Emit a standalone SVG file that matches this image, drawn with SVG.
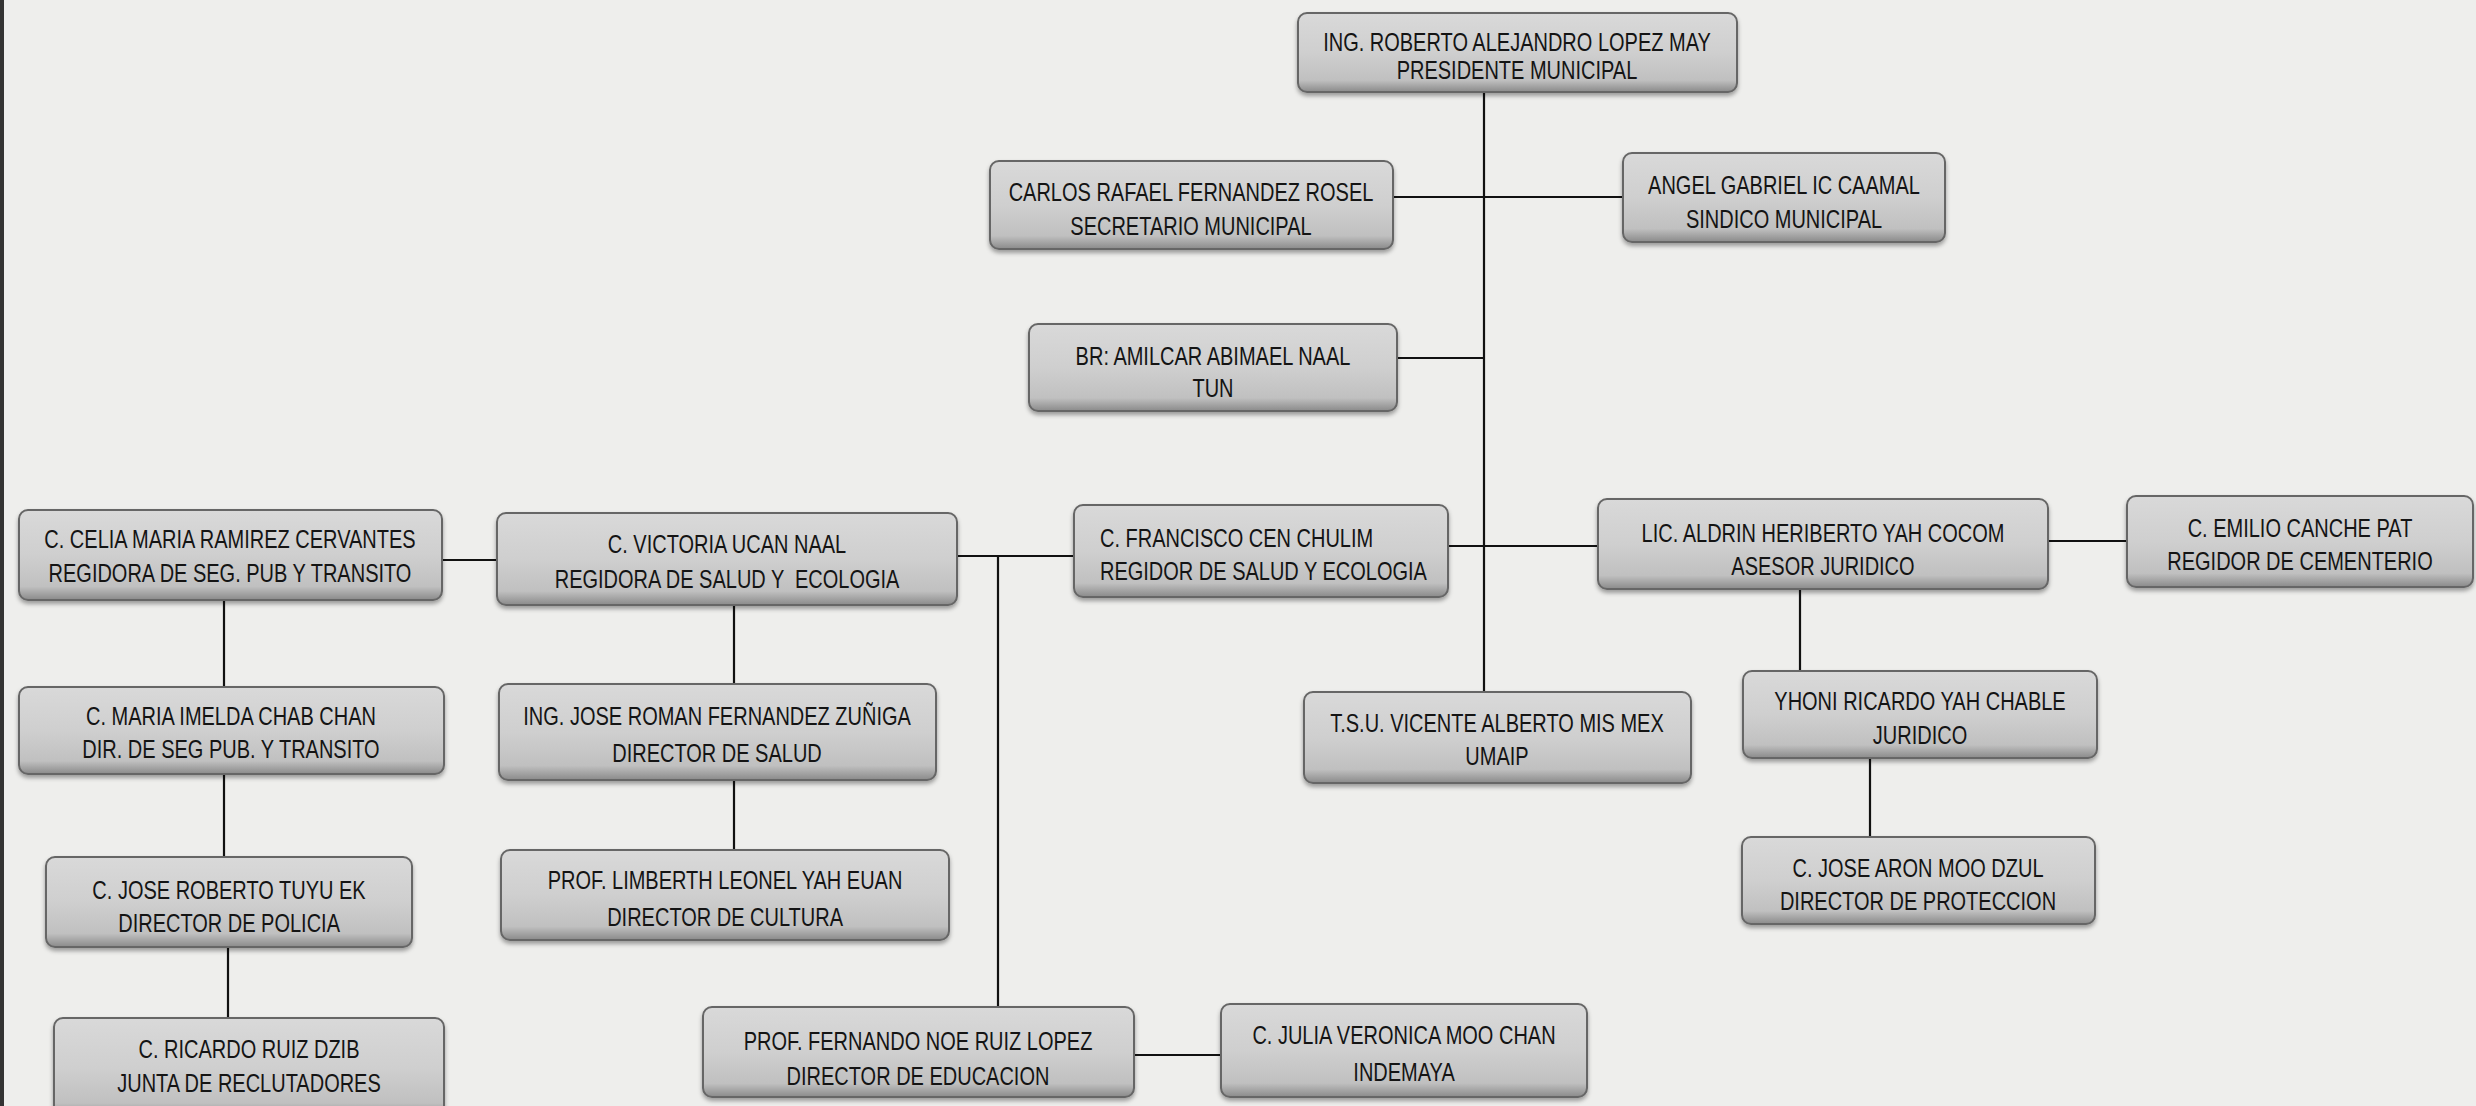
<svg xmlns="http://www.w3.org/2000/svg" width="2476" height="1106" viewBox="0 0 2476 1106">
<defs>
<linearGradient id="g" x1="0" y1="0" x2="0" y2="1">
<stop offset="0" stop-color="#d9d9d9"/>
<stop offset="0.5" stop-color="#cfcfcf"/>
<stop offset="0.85" stop-color="#c0c0c0"/>
<stop offset="1" stop-color="#8a8a8a"/>
</linearGradient>
<filter id="sh" x="-5%" y="-10%" width="110%" height="130%">
<feDropShadow dx="0" dy="3" stdDeviation="2" flood-color="#000" flood-opacity="0.35"/>
</filter>
</defs>
<style>
.b{fill:url(#g);stroke:#666;stroke-width:2;filter:url(#sh)}
.t{font-family:"Liberation Sans",Arial,sans-serif;font-size:25px;fill:#141414;text-anchor:middle;white-space:pre;transform-box:fill-box;transform-origin:center;transform:scaleX(0.8)}
.l{text-anchor:start;transform-origin:left center}
.c{stroke:#111;stroke-width:2.2;fill:none}
</style>
<rect width="2476" height="1106" fill="#eeeeec"/>
<rect x="0" y="0" width="4" height="1106" fill="#333"/>
<g id="connectors">
<path class="c" d="M1484 92V692"/>
<path class="c" d="M1393 197H1623"/>
<path class="c" d="M1397 358H1484"/>
<path class="c" d="M442 560H497"/>
<path class="c" d="M957 556H1074"/>
<path class="c" d="M998 556V1010"/>
<path class="c" d="M1448 546H1598"/>
<path class="c" d="M2048 541H2127"/>
<path class="c" d="M1800 589V671"/>
<path class="c" d="M1870 758V837"/>
<path class="c" d="M224 600V687"/>
<path class="c" d="M734 605V684"/>
<path class="c" d="M224 774V857"/>
<path class="c" d="M734 780V850"/>
<path class="c" d="M228 947V1018"/>
<path class="c" d="M1134 1055H1221"/>
</g>
<g id="n1"><rect class="b" x="1298" y="13" width="439" height="79" rx="9"/><text class="t" x="1517" y="51">ING. ROBERTO ALEJANDRO LOPEZ MAY</text><text class="t" x="1517" y="79">PRESIDENTE MUNICIPAL</text></g>
<g id="n2"><rect class="b" x="990" y="161" width="403" height="88" rx="9"/><text class="t" x="1191" y="201">CARLOS RAFAEL FERNANDEZ ROSEL</text><text class="t" x="1191" y="235">SECRETARIO MUNICIPAL</text></g>
<g id="n3"><rect class="b" x="1623" y="153" width="322" height="89" rx="9"/><text class="t" x="1784" y="194">ANGEL GABRIEL IC CAAMAL</text><text class="t" x="1784" y="228">SINDICO MUNICIPAL</text></g>
<g id="n4"><rect class="b" x="1029" y="324" width="368" height="87" rx="9"/><text class="t" x="1213" y="365">BR: AMILCAR ABIMAEL NAAL</text><text class="t" x="1213" y="397">TUN</text></g>
<g id="n5"><rect class="b" x="19" y="510" width="423" height="90" rx="9"/><text class="t" x="230" y="548">C. CELIA MARIA RAMIREZ CERVANTES</text><text class="t" x="230" y="582">REGIDORA DE SEG. PUB Y TRANSITO</text></g>
<g id="n6"><rect class="b" x="497" y="513" width="460" height="92" rx="9"/><text class="t" x="727" y="553">C. VICTORIA UCAN NAAL</text><text class="t" x="727" y="588">REGIDORA DE SALUD Y  ECOLOGIA</text></g>
<g id="n7"><rect class="b" x="1074" y="505" width="374" height="92" rx="9"/><text class="t l" x="1100" y="547">C. FRANCISCO CEN CHULIM</text><text class="t l" x="1100" y="580">REGIDOR DE SALUD Y ECOLOGIA</text></g>
<g id="n8"><rect class="b" x="1598" y="499" width="450" height="90" rx="9"/><text class="t" x="1823" y="542">LIC. ALDRIN HERIBERTO YAH COCOM</text><text class="t" x="1823" y="575">ASESOR JURIDICO</text></g>
<g id="n9"><rect class="b" x="2127" y="496" width="346" height="91" rx="9"/><text class="t" x="2300" y="537">C. EMILIO CANCHE PAT</text><text class="t" x="2300" y="570">REGIDOR DE CEMENTERIO</text></g>
<g id="n10"><rect class="b" x="1304" y="692" width="387" height="91" rx="9"/><text class="t" x="1497" y="732">T.S.U. VICENTE ALBERTO MIS MEX</text><text class="t" x="1497" y="765">UMAIP</text></g>
<g id="n11"><rect class="b" x="1743" y="671" width="354" height="87" rx="9"/><text class="t" x="1920" y="710">YHONI RICARDO YAH CHABLE</text><text class="t" x="1920" y="744">JURIDICO</text></g>
<g id="n12"><rect class="b" x="1742" y="837" width="353" height="87" rx="9"/><text class="t" x="1918" y="877">C. JOSE ARON MOO DZUL</text><text class="t" x="1918" y="910">DIRECTOR DE PROTECCION</text></g>
<g id="n13"><rect class="b" x="19" y="687" width="425" height="87" rx="9"/><text class="t" x="231" y="725">C. MARIA IMELDA CHAB CHAN</text><text class="t" x="231" y="758">DIR. DE SEG PUB. Y TRANSITO</text></g>
<g id="n14"><rect class="b" x="499" y="684" width="437" height="96" rx="9"/><text class="t" x="717" y="725">ING. JOSE ROMAN FERNANDEZ ZUÑIGA</text><text class="t" x="717" y="762">DIRECTOR DE SALUD</text></g>
<g id="n15"><rect class="b" x="46" y="857" width="366" height="90" rx="9"/><text class="t" x="229" y="899">C. JOSE ROBERTO TUYU EK</text><text class="t" x="229" y="932">DIRECTOR DE POLICIA</text></g>
<g id="n16"><rect class="b" x="501" y="850" width="448" height="90" rx="9"/><text class="t" x="725" y="889">PROF. LIMBERTH LEONEL YAH EUAN</text><text class="t" x="725" y="926">DIRECTOR DE CULTURA</text></g>
<g id="n17"><rect class="b" x="54" y="1018" width="390" height="100" rx="9"/><text class="t" x="249" y="1058">C. RICARDO RUIZ DZIB</text><text class="t" x="249" y="1092">JUNTA DE RECLUTADORES</text></g>
<g id="n18"><rect class="b" x="703" y="1007" width="431" height="90" rx="9"/><text class="t" x="918" y="1050">PROF. FERNANDO NOE RUIZ LOPEZ</text><text class="t" x="918" y="1085">DIRECTOR DE EDUCACION</text></g>
<g id="n19"><rect class="b" x="1221" y="1004" width="366" height="93" rx="9"/><text class="t" x="1404" y="1044">C. JULIA VERONICA MOO CHAN</text><text class="t" x="1404" y="1081">INDEMAYA</text></g>
</svg>
